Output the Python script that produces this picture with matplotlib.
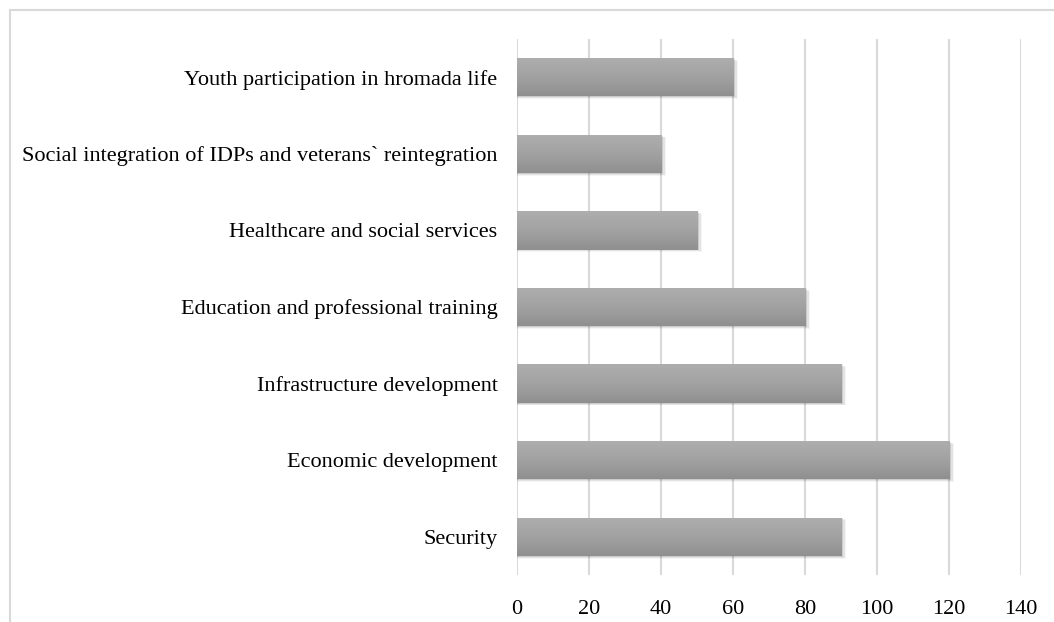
import numpy as np
import matplotlib.pyplot as plt
import matplotlib
from matplotlib.patches import Rectangle
from matplotlib.colors import LinearSegmentedColormap

matplotlib.rcParams['font.family'] = ['Liberation Serif', 'DejaVu Serif']

categories = ["Security", "Economic development", "Infrastructure development",
              "Education and professional training", "Healthcare and social services",
              "Social integration of IDPs and veterans` reintegration",
              "Youth participation in hromada life"]
values = [90, 120, 90, 80, 50, 40, 60]

fig = plt.figure(figsize=(10.54, 6.22), dpi=100)
ax = fig.add_axes([0.4905, 0.0756, 0.4782, 0.8617])

y = np.arange(len(categories))
h = 0.5

# soft shadow behind bars
for yi, v in zip(y, values):
    for k, a in enumerate([0.10, 0.07, 0.04]):
        d = 0.5 + k * 0.5
        ax.add_patch(Rectangle((0, yi - h / 2 - 0.012 * (k + 1)), v + d, h,
                               facecolor='black', alpha=a, edgecolor='none', zorder=2))

bars = ax.barh(y, values, height=h, color='#a0a0a0', zorder=3)

# vertical gradient on each bar
cmap = LinearSegmentedColormap.from_list('g', ['#aeaeae', '#a2a2a2', '#8f8f8f'])
grad = np.linspace(0, 1, 64).reshape(-1, 1)
for b in bars:
    x0, y0 = b.get_x(), b.get_y()
    w, hh = b.get_width(), b.get_height()
    im = ax.imshow(grad, cmap=cmap, aspect='auto', extent=[x0, x0 + w, y0, y0 + hh],
                   origin='upper', zorder=4)
    im.set_clip_path(b)

ax.set_xlim(0, 140)
ax.set_ylim(-0.5, len(categories) - 0.5)
ax.set_xticks(range(0, 141, 20))
ax.set_yticks(y)
ax.set_yticklabels(categories)
ax.grid(axis='x', color='#d9d9d9', linewidth=1.5, zorder=0)
ax.set_axisbelow(True)
for s in ax.spines.values():
    s.set_visible(False)
ax.tick_params(axis='both', length=0, labelsize=16, colors='black')
ax.tick_params(axis='y', pad=14)
ax.tick_params(axis='x', pad=18)

fig.patches.append(Rectangle((10 / 1054, -0.1), 1.2, 1 - 10 / 622 + 0.1,
                             transform=fig.transFigure, fill=False,
                             edgecolor='#d9d9d9', linewidth=1.5))

fig.savefig('out.png', dpi=100)
